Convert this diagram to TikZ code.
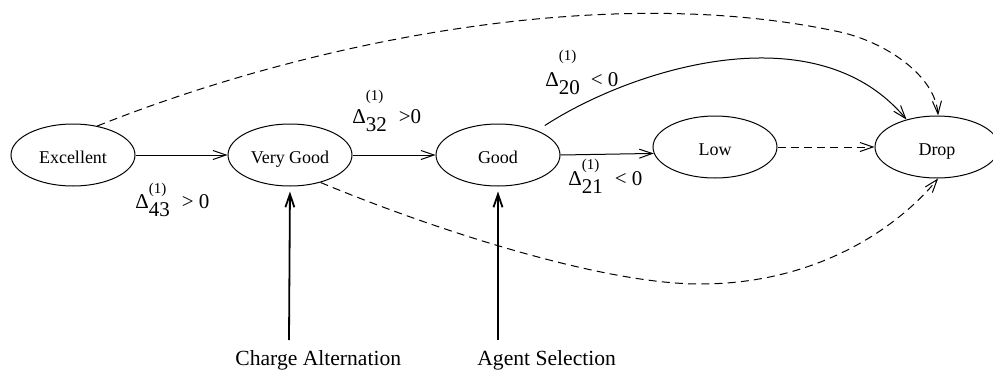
\documentclass[tikz,border=0pt]{standalone}
\usepackage{fontspec}
\setmainfont{Liberation Serif}
\usetikzlibrary{shapes.geometric,arrows.meta}
\newcommand{\dlab}[4]{Δ\rlap{\raisebox{#2}{\fontsize{7.5pt}{8pt}\selectfont(1)}}\raisebox{-4pt}{#1}\hspace{#3}#4}
\begin{document}
\begin{tikzpicture}[x=0.5pt,y=-0.5pt,
  stnode/.style={ellipse,draw,line width=0.5pt,minimum width=62pt,minimum height=31pt,inner sep=0pt,text height=8.5pt,text depth=0pt,font=\fontsize{9pt}{11pt}\selectfont},
  trans/.style={line width=0.5pt,-{Straight Barb[length=6.5pt,width=4.5pt]}},
  dtrans/.style={trans,dash pattern=on 4pt off 2.6pt},
  vtrans/.style={line width=0.9pt,-{Straight Barb[length=6.5pt,width=4.5pt]},shorten >=2.5pt},
  lab/.style={anchor=base west,inner sep=0pt,font=\fontsize{10.5pt}{12pt}\selectfont},
  ext/.style={anchor=base west,inner sep=0pt,font=\fontsize{10.8pt}{13pt}\selectfont}]
\useasboundingbox (0,0) rectangle (993,370);
% states
\node[stnode] (ex) at (73,155) {Excellent};
\node[stnode] (vg) at (290,155) {Very Good};
\node[stnode] (gd) at (498,155) {Good};
\node[stnode] (lw) at (715,147) {Low};
\node[stnode] (dr) at (937,147) {Drop};
% external inputs
\node[ext] (ca) at (235,365) {Charge Alternation};
\node[ext] (as) at (477,365) {Agent Selection};
\coordinate (caS) at (289,340);
\coordinate (asS) at (498,340);
% labels
\node[lab] (l43) at (135,208) {\dlab{43}{7.5pt}{6pt}{> 0}};
\node[lab] (l32) at (352,123) {\dlab{32}{11.5pt}{6pt}{>0}};
\node[lab] (l20) at (545,86) {\dlab{20}{13pt}{5.5pt}{< 0}};
\node[lab] (l21) at (568,185) {\dlab{21}{8pt}{6pt}{< 0}};
% transitions
\draw[trans] (ex) -- (vg);
\draw[trans] (vg) -- (gd);
\draw[trans] (gd.east) -- (lw.186);
\draw[dtrans] (lw) -- (dr);
\draw[trans,shorten <=4.5pt] (gd.32) .. controls (630,70) and (815,10) .. (dr.138);
\draw[dtrans] (ex.50) .. controls (300,45) and (600,-20) .. (840,32)
   .. controls (885,42) and (935,75) .. (dr.88);
\draw[dtrans] (vg.-42) .. controls (430,228) and (600,284) .. (700,284)
   .. controls (820,284) and (900,225) .. (dr.-88);
\draw[vtrans] (caS) -- (vg.south);
\draw[vtrans] (asS) -- (gd.south);
\end{tikzpicture}
\end{document}
